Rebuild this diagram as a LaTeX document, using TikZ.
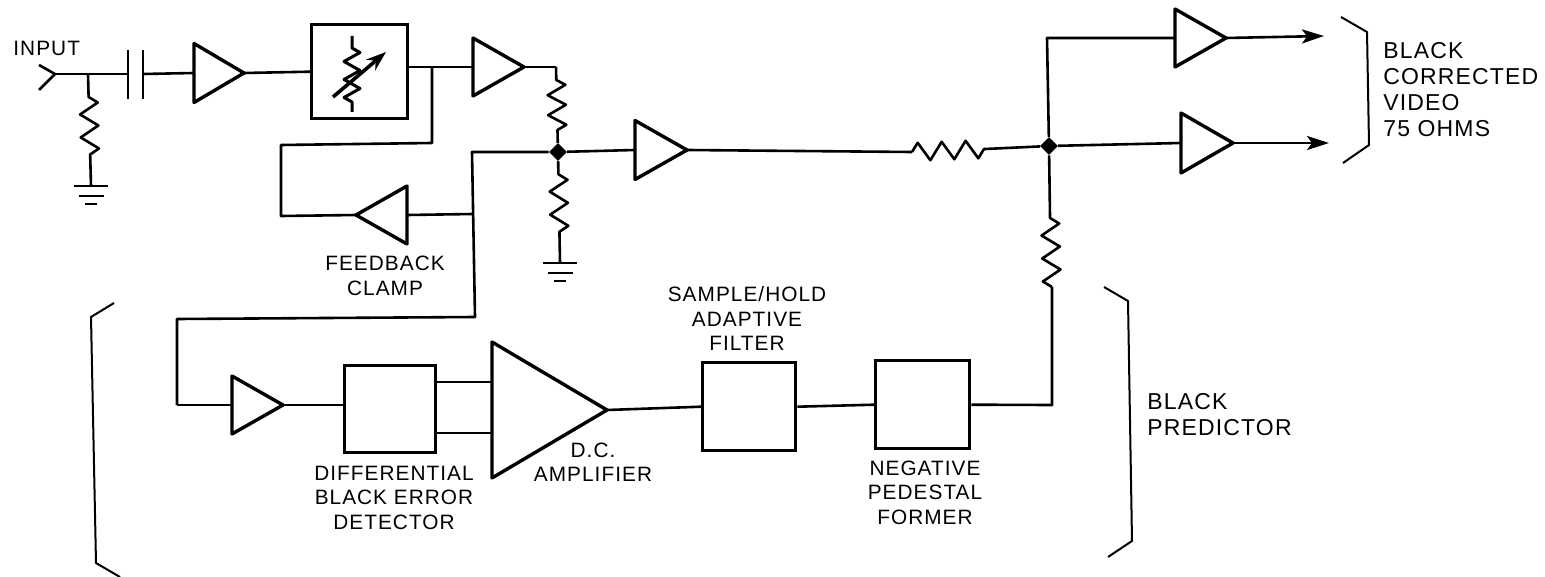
\documentclass[tikz,border=0pt]{standalone}
\usepackage{fontspec}
\setmainfont[LetterSpace=5]{Liberation Sans}
\usetikzlibrary{positioning,arrows.meta,calc,decorations.pathmorphing,shapes.geometric}
\tikzset{
  wire/.style={line width=1.3pt,line join=round},
  sig/.style={wire,-{Stealth[length=11pt,width=7pt,inset=2.5pt]}},
  amp/.style 2 args={isosceles triangle,isosceles triangle stretches,draw,line width=1.7pt,
    inner sep=0pt,outer sep=0pt,minimum height=#1,minimum width=#2,line join=round},
  blk/.style={draw,line width=1.7pt,inner sep=0pt,anchor=north west},
  jct/.style={diamond,fill=black,inner sep=0pt,minimum size=9pt},
  res/.style 2 args={wire,decorate,decoration={zigzag,amplitude=4.5pt,segment length=11.5pt,
    pre length=#1,post length=#2}},
  brk/.style={line width=1pt,line join=round},
  lbl/.style={font=\fontsize{10.4}{12.25}\selectfont,align=center,inner sep=0pt},
  lblbig/.style={font=\fontsize{11.5}{13}\selectfont,align=left,inner sep=0pt,anchor=north west},
}
\newcommand{\earth}[1]{% ground symbol below a coordinate
  \draw[wire] ($(#1)+(-17,0)$) -- ($(#1)+(17,0)$)
    ($(#1)+(-12.5,10)$) -- ($(#1)+(12.5,10)$)
    ($(#1)+(-6,18)$) -- ($(#1)+(6,18)$);}
\begin{document}
\begin{tikzpicture}[x=0.5pt,y=-0.5pt]
  \useasboundingbox (0,0) rectangle (1545,577);
  % ---- input stage ----
  \node[lbl,anchor=north west] (inp) at (13,41) {INPUT};
  \coordinate (fork) at (55,74);
  \draw[wire] (39,65) -- (fork) -- (39,90);
  \coordinate (tapa) at (88,74);
  \coordinate (capl) at (128,74);
  \coordinate (capr) at (143,74);
  \draw[wire] (fork) -- (capl);
  \draw[wire] (128,50) -- (128,99) (143,50) -- (143,99);
  \coordinate (gnda) at (91,186);
  \draw[res={11.5pt}{10.5pt}] (tapa) -- (gnda);
  \earth{gnda}
  \node[amp={25pt}{29.5pt},anchor=apex] (ampa) at (244,73) {};
  \draw[wire] (capr) -- (ampa.west);
  \node[blk,minimum width=48pt,minimum height=47pt] (agc) at (310,23) {};
  \draw[wire] (ampa.apex) -- (agc.west);
  % variable resistor inside the box
  \draw[res={6pt}{4.5pt},line width=1.5pt,decoration={segment length=9pt,amplitude=4pt}] (352,36) -- (352,112);
  \draw[line width=1.8pt,-{Stealth[length=10pt,width=7pt]}] (333,97) -- (386,52);
  % ---- upper chain ----
  \node[amp={25.5pt}{29pt},anchor=apex] (ampb) at (524,67) {};
  \draw[wire] (agc.east |- ampb.west) -- (ampb.west);
  \coordinate (outb) at (556,67);
  \draw[wire] (ampb.apex) -- (outb);
  \node[jct] (mix) at (558,152) {};
  \draw[res={6.5pt}{6pt},decoration={segment length=10pt}] (outb) -- (mix);
  \coordinate (gndb) at (560,263);
  \draw[res={6.5pt}{14pt}] (mix) -- (gndb);
  \earth{gndb}
  % ---- feedback clamp ----
  \coordinate (tapb) at (432,68);
  \coordinate (fbk) at (472,152);
  \coordinate (fbj) at (473,214);
  \node[amp={25.5pt}{29pt},shape border rotate=180,anchor=apex] (ampc) at (356,215) {};
  \draw[wire] (tapb) -- (432,143) -- (281,145) -- (281,216) -- (ampc.apex);
  \draw[wire] (ampc.east) -- (fbj);
  \draw[wire] (mix) -- (fbk) -- (475,317) -- (177,319) -- (177,405);
  \node[lbl] (lfbk) at (385,276) {FEEDBACK\\CLAMP};
  % ---- black predictor ----
  \node[amp={25.5pt}{29pt},anchor=apex] (ampd) at (283,405) {};
  \draw[wire] (177,405) -- (ampd.west);
  \node[blk,minimum width=45.5pt,minimum height=43.5pt] (det) at (343,364) {};
  \draw[wire] (ampd.apex) -- (det.west |- ampd.apex);
  \node[amp={57.5pt}{68pt},anchor=apex] (ampe) at (607,410) {};
  \draw[wire] (det.east |- 0,382) -- (ampe.west |- 0,382);
  \draw[wire] (det.east |- 0,433) -- (ampe.west |- 0,433);
  \node[blk,minimum width=46.5pt,minimum height=44pt] (filt) at (701,361) {};
  \draw[wire] (ampe.apex) -- (filt.west);
  \node[blk,minimum width=47pt,minimum height=44pt] (ped) at (874,359) {};
  \draw[wire] (filt.east) -- (ped.west);
  \node[lbl] (ldet) at (394,497.5) {DIFFERENTIAL\\BLACK ERROR\\DETECTOR};
  \node[lbl] (ldc) at (593,462) {D.C.\\AMPLIFIER};
  \node[lbl] (lfilt) at (747,318.5) {SAMPLE/HOLD\\ADAPTIVE\\FILTER};
  \node[lbl] (lped) at (925,492.5) {NEGATIVE\\PEDESTAL\\FORMER};
  \node[lblbig] (lpred) at (1147,393) {BLACK\\PREDICTOR};
  % ---- output stage ----
  \node[amp={26pt}{29.5pt},anchor=apex] (ampf) at (687,150) {};
  \draw[wire] (mix) -- (ampf.west);
  \node[jct] (out) at (1049,146) {};
  \coordinate (resl) at (912,152);
  \coordinate (resr) at (985,149);
  \draw[wire] (ampf.apex) -- (resl);
  \draw[res={0pt}{0pt},decoration={segment length=12pt}] (resl) -- (resr);
  \draw[wire] (resr) -- (out);
  \coordinate (feed) at (1052,405);
  \coordinate (resb) at (1052,287);
  \coordinate (rest) at (1050,217);
  \draw[wire] (ped.east) -- (feed) -- (resb);
  \draw[res={0pt}{0pt}] (resb) -- (rest);
  \draw[wire] (rest) -- (out);
  \node[amp={25.5pt}{29pt},anchor=apex] (ampg) at (1226,38) {};
  \node[amp={26pt}{30pt},anchor=apex] (amph) at (1233,143) {};
  \draw[wire] (out) -- (1047,38) -- (ampg.west);
  \draw[wire] (out) -- (amph.west);
  \coordinate (outg) at (1324,36);
  \coordinate (outh) at (1329,143);
  \draw[sig] (ampg.apex) -- (outg);
  \draw[sig] (amph.apex) -- (outh);
  % ---- brackets ----
  \draw[brk] (1341,17) -- (1367,32) -- (1369,145) -- (1343,163);
  \draw[brk] (114,303) -- (91,317) -- (96,563) -- (120,577);
  \draw[brk] (1104,287) -- (1128,301) -- (1132,541) -- (1108,557);
  \node[lblbig] (lvid) at (1383,42) {BLACK\\CORRECTED\\VIDEO\\75 OHMS};
\end{tikzpicture}
\end{document}
